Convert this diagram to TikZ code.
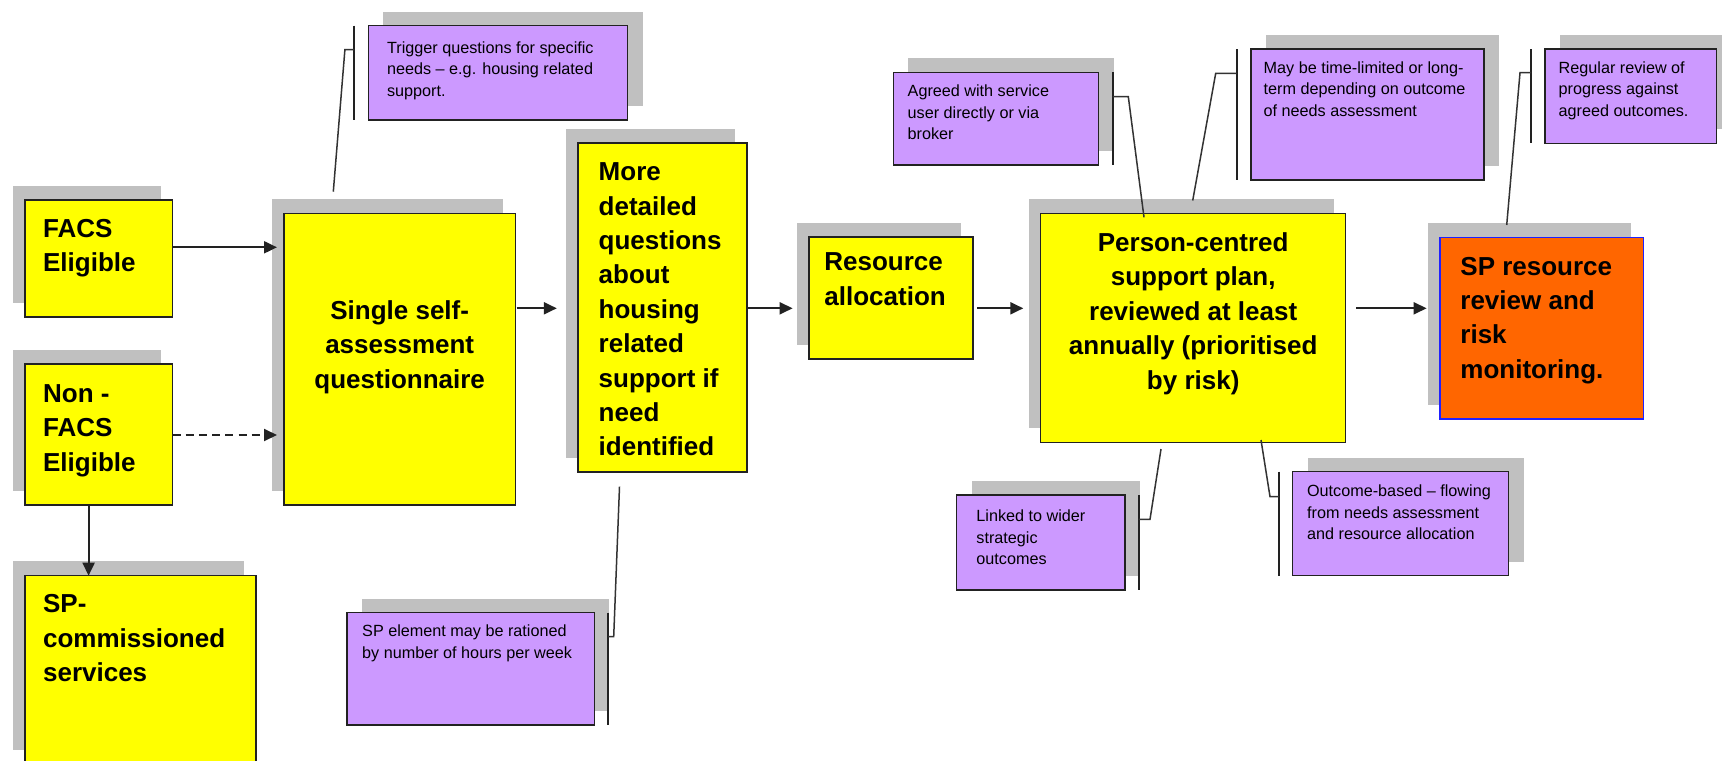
\documentclass[tikz,border=0pt]{standalone}
\usepackage{fontspec}
\setmainfont{Liberation Sans}
\usetikzlibrary{arrows.meta,shadows}
\definecolor{boxyellow}{HTML}{FFFF00}
\definecolor{boxorange}{HTML}{FF6600}
\definecolor{boxpurple}{HTML}{CC99FF}
\definecolor{shadowgray}{HTML}{C0C0C0}
\definecolor{linedark}{HTML}{222222}
\definecolor{calloutgray}{HTML}{333333}
\definecolor{borderblue}{HTML}{2020FF}
\newcommand{\lefttxt}[1]{\parbox[t]{400pt}{\raggedright #1}}
\newcommand{\midtxt}[2]{\parbox[t]{#1}{\centering #2}}
\begin{document}
\begin{tikzpicture}[x=0.5pt,y=-0.5pt,
  boxbase/.style={draw=linedark, line width=0.65pt, anchor=north west, inner sep=0pt, outer sep=0pt},
  ybox/.style={boxbase, fill=boxyellow, general shadow={fill=shadowgray, shadow xshift=-6pt, shadow yshift=7.25pt}},
  obox/.style={boxbase, draw=borderblue, fill=boxorange, general shadow={fill=shadowgray, shadow xshift=-6pt, shadow yshift=7.25pt}},
  pbox/.style={boxbase, fill=boxpurple, general shadow={fill=shadowgray, shadow xshift=7.5pt, shadow yshift=7pt}},
  ytext/.style={anchor=base west, inner sep=0pt, font=\fontsize{13}{17.2}\selectfont\bfseries},
  ctext/.style={anchor=base, inner sep=0pt, font=\fontsize{13}{17.3}\selectfont\bfseries},
  ptext/.style={anchor=base west, inner sep=0pt, font=\fontsize{8.1}{10.75}\selectfont},
  arr/.style={draw=linedark, line width=1pt, -{Triangle[length=6.5pt,width=6pt]}},
  accentbar/.style={draw=linedark, line width=0.9pt},
  callline/.style={draw=calloutgray, line width=0.75pt}
]
\useasboundingbox (0,0) rectangle (1722,760);
\clip (0,0) rectangle (1722,760);
\fill[white] (0,0) rectangle (1722,760);

% yellow / orange boxes
\node[ybox, minimum width=73.75pt, minimum height=58.5pt] (facs) at (25,200) {};
\node[ybox, minimum width=73.75pt, minimum height=70.5pt] (nonfacs) at (25,364) {};
\node[ybox, minimum width=115.5pt, minimum height=94.5pt] (spc) at (25,575.7) {};
\node[ybox, minimum width=115.65pt, minimum height=145.85pt] (single) at (284,213.3) {};
\node[ybox, minimum width=84.5pt, minimum height=164.5pt] (more) at (578,143) {};
\node[ybox, minimum width=82pt, minimum height=61pt] (res) at (809,237) {};
\node[ybox, minimum width=152.5pt, minimum height=114.5pt] (person) at (1040.7,213.3) {};
\node[obox, minimum width=101.65pt, minimum height=90.85pt] (sprr) at (1440,237.3) {};

% purple boxes
\node[pbox, minimum width=129.7pt, minimum height=47.15pt] (trig) at (368.3,25.7) {};
\node[pbox, minimum width=123.65pt, minimum height=56.15pt] (ration) at (347,612.7) {};
\node[pbox, minimum width=102.7pt, minimum height=46.35pt] (agreed) at (893.3,72.3) {};
\node[pbox, minimum width=116.5pt, minimum height=65.5pt] (maybe) at (1251,49) {};
\node[pbox, minimum width=85.85pt, minimum height=47.15pt] (regular) at (1545,49) {};
\node[pbox, minimum width=84.15pt, minimum height=47.5pt] (linked) at (956.7,495) {};
\node[pbox, minimum width=107.95pt, minimum height=52pt] (outcome) at (1292.7,471.7) {};

% texts of the main boxes
\node[ytext] (facsT) at (42.7,237) {\lefttxt{FACS\\Eligible}};
\node[ytext] (nonfacsT) at (42.7,402.3) {\lefttxt{Non -\\FACS\\Eligible}};
\node[ytext] (spcT) at (42.7,612.7) {\lefttxt{SP-\\commissioned\\services}};
\node[ctext] (singleT) at (399.7,319.3) {\midtxt{115pt}{Single self-\\assessment\\questionnaire}};
\node[ytext] (moreT) at (598.3,180.7) {\lefttxt{More\\detailed\\questions\\about\\housing\\related\\support if\\need\\identified}};
\node[ytext] (resT) at (824,270.7) {\lefttxt{Resource\\allocation}};
\node[ctext] (personT) at (1193.2,251) {\midtxt{150pt}{Person-centred\\support plan,\\reviewed at least\\annually (prioritised\\by risk)}};
\node[ytext] (sprrT) at (1460,275) {\lefttxt{SP resource\\review and\\risk\\monitoring.}};

% texts of the notes
\node[ptext] (trigT) at (386.7,53.3) {\lefttxt{Trigger questions for specific\\needs – e.g. housing related\\support.}};
\node[ptext] (rationT) at (361.8,636.7) {\lefttxt{SP element may be rationed\\by number of hours per week}};
\node[ptext] (agreedT) at (907.3,96.7) {\lefttxt{Agreed with service\\user directly or via\\broker}};
\node[ptext] (maybeT) at (1263.3,73.3) {\lefttxt{May be time-limited or long-\\term depending on outcome\\of needs assessment}};
\node[ptext] (regularT) at (1558.3,73.3) {\lefttxt{Regular review of\\progress against\\agreed outcomes.}};
\node[ptext] (linkedT) at (976,521.7) {\lefttxt{Linked to wider\\strategic\\outcomes}};
\node[ptext] (outcomeT) at (1306.7,496.7) {\lefttxt{Outcome-based – flowing\\from needs assessment\\and resource allocation}};

% helper coordinates
\coordinate (yA) at (0,247.3);
\coordinate (yB) at (0,435);
\coordinate (yM) at (0,308.3);
\coordinate (xV) at (88.6,0);

% flow arrows
\draw[arr, shorten >=3.5pt] (facs.east |- yA) -- (single.west |- yA);
\draw[arr, dash pattern=on 4pt off 2.6pt, shorten >=3.5pt] (nonfacs.east |- yB) -- (single.west |- yB);
\draw[arr] (nonfacs.south -| xV) -- (spc.north -| xV);
\draw[arr, shorten <=0.6pt, shorten >=10.6pt] (single.east |- yM) -- (more.west |- yM);
\draw[arr, shorten >=8.2pt] (more.east |- yM) -- (res.west |- yM);
\draw[arr, shorten <=2pt, shorten >=8.7pt] (res.east |- yM) -- (person.west |- yM);
\draw[arr, shorten <=5.2pt, shorten >=6.7pt] (person.east |- yM) -- (sprr.west |- yM);

% callout end points
\coordinate (trigEnd) at (333.3,191.7);
\coordinate (rationEnd) at (619.5,486.7);
\coordinate (agreedEnd) at (1144,217.3);
\coordinate (maybeEnd) at (1192.7,200.5);
\coordinate (regularEnd) at (1506.7,225);
\coordinate (linkedEnd) at (1161,449);
\coordinate (outcomeEnd) at (1261,440);

% callouts
\draw[accentbar] ([xshift=-7pt]trig.north west) -- ([xshift=-7pt]trig.south west);
\draw[callline] ([xshift=-7pt,yshift=-12pt]trig.north west) -- ++(-4.7pt,0pt) -- (trigEnd);

\draw[accentbar] ([xshift=6.85pt]ration.north east) -- ([xshift=6.85pt]ration.south east);
\draw[callline] ([xshift=6.85pt,yshift=-12pt]ration.north east) -- ++(2.85pt,0pt) -- (rationEnd);

\draw[accentbar] ([xshift=7pt]agreed.north east) -- ([xshift=7pt]agreed.south east);
\draw[callline] ([xshift=7pt,yshift=-12.2pt]agreed.north east) -- ++(7.8pt,0pt) -- (agreedEnd);

\draw[accentbar] ([xshift=-7.15pt]maybe.north west) -- ([xshift=-7.15pt]maybe.south west);
\draw[callline] ([xshift=-7.15pt,yshift=-12.15pt]maybe.north west) -- ++(-10.5pt,0pt) -- (maybeEnd);

\draw[accentbar] ([xshift=-7pt]regular.north west) -- ([xshift=-7pt]regular.south west);
\draw[callline] ([xshift=-7pt,yshift=-11.85pt]regular.north west) -- ++(-5.5pt,0pt) -- (regularEnd);

\draw[accentbar] ([xshift=6.85pt]linked.north east) -- ([xshift=6.85pt]linked.south east);
\draw[callline] ([xshift=6.85pt,yshift=-12.15pt]linked.north east) -- ++(5.65pt,0pt) -- (linkedEnd);

\draw[accentbar] ([xshift=-6.85pt]outcome.north west) -- ([xshift=-6.85pt]outcome.south west);
\draw[callline] ([xshift=-6.85pt,yshift=-12.5pt]outcome.north west) -- ++(-4.5pt,0pt) -- (outcomeEnd);
\end{tikzpicture}
\end{document}
